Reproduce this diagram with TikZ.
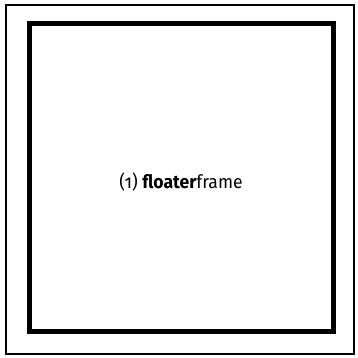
\documentclass[tikz,border=0pt]{standalone}
\usepackage{fontspec}
\setmainfont{Fira Sans}[Numbers=OldStyle]
\usepackage{tikz}
\usetikzlibrary{positioning}

\begin{document}
\begin{tikzpicture}[
        x=1pt, y=-1pt,
        outerframe/.style={draw=black, line width=2pt},
        floaterframe/.style={draw=black, line width=5pt},
        label/.style={font=\fontsize{18.5}{22}\selectfont, inner sep=0pt, xscale=0.95, transform shape}
    ]
        % Page
        \useasboundingbox (0,0) rectangle (357,358);

        % Frames
        \draw[outerframe] (5.5,5.5) rectangle (353.5,354);
        \draw[floaterframe] (29,24) rectangle (333.5,331.5);

        % Label
        \node[label] (name) at (181,182) {(1) \textbf{floater}frame};
    \end{tikzpicture}
\end{document}
